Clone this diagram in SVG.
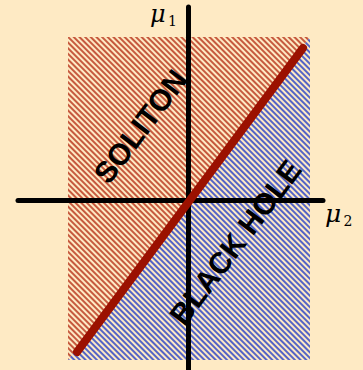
<svg xmlns="http://www.w3.org/2000/svg" width="363" height="370" viewBox="0 0 363 370">
<defs>
<pattern id="hatchRed" patternUnits="userSpaceOnUse" width="8" height="4" patternTransform="rotate(45)">
<rect x="-1" y="1" width="10" height="2" fill="#c65a3e"/>
</pattern>
<pattern id="hatchBlue" patternUnits="userSpaceOnUse" width="8" height="4" patternTransform="rotate(45)">
<rect x="-1" y="1" width="10" height="2" fill="#5464c6"/>
</pattern>
<clipPath id="regionClip"><rect x="68" y="37" width="242" height="323"/></clipPath>
</defs>
<style>
.axis{stroke:#000;stroke-width:5;stroke-linecap:round;fill:none}
.label{font-family:"Liberation Sans",Arial,sans-serif;font-weight:bold;font-size:30px;fill:#000;text-anchor:middle}
.math{font-family:"DejaVu Serif","Liberation Serif",serif;font-style:italic;fill:#000}
.sub{font-family:"DejaVu Serif","Liberation Serif",serif;fill:#000}
</style>
<rect width="363" height="370" fill="#feeac4"/>
<g id="regions" clip-path="url(#regionClip)">
<polygon id="soliton-region" points="68,37 310,37 68,360" fill="url(#hatchRed)"/>
<polygon id="blackhole-region" points="310,37 310,360 68,360" fill="url(#hatchBlue)"/>
</g>
<g id="connectors">
<line class="axis" x1="18" y1="200.5" x2="323" y2="200.5"/>
<line class="axis" x1="188.5" y1="7" x2="188.5" y2="372"/>
<line x1="77" y1="352" x2="303" y2="48" stroke="#9b1100" stroke-width="8" stroke-linecap="round"/>
</g>
<g id="soliton-label">
<text class="label" transform="translate(140,126) rotate(-53)" y="11">SOLITON</text>
</g>
<g id="blackhole-label">
<text class="label" transform="translate(235,242) rotate(-53)" y="11">BLACK HOLE</text>
</g>
<g id="mu1">
<text class="math" x="150" y="22" font-size="24">μ</text>
<text class="sub" x="168" y="26" font-size="14">1</text>
</g>
<g id="mu2">
<text class="math" x="325" y="222" font-size="25">μ</text>
<text class="sub" x="343.5" y="226" font-size="14">2</text>
</g>
</svg>
